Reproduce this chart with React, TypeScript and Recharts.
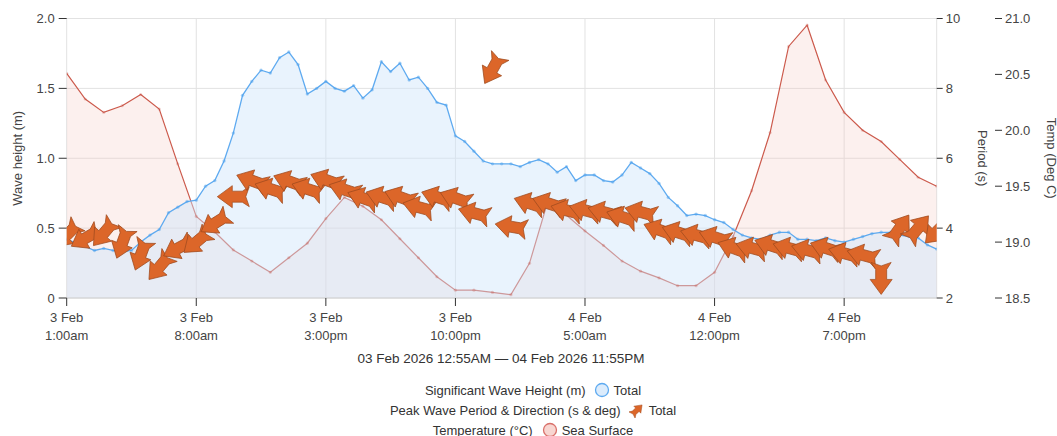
import React from 'react';
import { ComposedChart, Area, Scatter, XAxis, YAxis, CartesianGrid } from 'recharts';

// hours counted from 3 Feb 00:00
const START_HOUR = 1;
const xTicks = [1, 8, 15, 22, 29, 36, 43];
const waveTicks = [0, 0.5, 1, 1.5, 2];
const periodTicks = [2, 4, 6, 8, 10];
const tempTicks = [18.5, 19, 19.5, 20, 20.5, 21];

// significant wave height (m), every 30 min from 3 Feb 1:00am
const waveHeight = [
  0.42, 0.395, 0.37, 0.34, 0.355, 0.34, 0.33, 0.34, 0.4, 0.45, 0.49, 0.61, 0.65, 0.69, 0.7, 0.8,
  0.84, 0.98, 1.18, 1.45, 1.55, 1.63, 1.61, 1.72, 1.76, 1.67, 1.46, 1.5, 1.55, 1.5, 1.48,
  1.52, 1.43, 1.49, 1.69, 1.62, 1.68, 1.56, 1.58, 1.5, 1.4, 1.38, 1.16, 1.12, 1.05, 0.98, 0.96,
  0.96, 0.96, 0.94, 0.97, 0.99, 0.96, 0.9, 0.94, 0.84, 0.88, 0.88, 0.84, 0.83, 0.88, 0.97, 0.93,
  0.89, 0.82, 0.72, 0.66, 0.59, 0.6, 0.59, 0.56, 0.54, 0.49, 0.45, 0.43, 0.42, 0.45, 0.47, 0.47,
  0.42, 0.42, 0.41, 0.43, 0.41, 0.4, 0.42, 0.44, 0.46, 0.47, 0.47, 0.45, 0.44, 0.43, 0.38, 0.35,
];

// sea surface temperature (deg C), hourly
const seaTemp = [
  20.51, 20.28, 20.16, 20.22, 20.32, 20.19, 19.7, 19.23, 19.09, 18.93, 18.83, 18.73,
  18.86, 18.99, 19.21, 19.4, 19.32, 19.2, 19.03, 18.86, 18.69, 18.57, 18.57, 18.55,
  18.53, 18.81, 19.37, 19.24, 19.1, 18.97, 18.83, 18.74, 18.68, 18.61, 18.61, 18.73,
  19.05, 19.46, 19.98, 20.75, 20.94, 20.45, 20.16, 20.0, 19.9, 19.74, 19.58, 19.5,
];

// peak wave period (s) and direction (deg, coming from), hourly
const peakPeriod = [
  3.8, 3.71, 3.85, 3.57, 3.23, 2.88, 3.42, 3.6, 4.14, 4.9, 5.36, 5.12,
  5.34, 5.12, 5.38, 5.1, 4.86, 4.89, 4.89, 4.6, 4.89, 4.86, 4.43, 8.54,
  4.04, 4.71, 4.71, 4.51, 4.51, 4.46, 4.32, 4.46, 3.95, 3.88, 3.8, 3.74,
  3.43, 3.43, 3.51, 3.43, 3.37, 3.43, 3.28, 3.23, 2.56, 4.0, 4.0, 3.9,
];
const peakDir = [
  45, 60, 40, 20, 20, 40, 62, 50, 58, 90, 110, 108,
  110, 108, 110, 108, 110, 108, 110, 105, 108, 110, 105, 29,
  100, 108, 108, 105, 105, 105, 108, 105, 110, 108, 105, 108,
  110, 105, 108, 105, 105, 108, 105, 105, 0, 215, 220, 45,
];

const rows = waveHeight.map((h, i) => ({
  t: START_HOUR + i * 0.5,
  wave: h,
  temp: i % 2 === 0 ? seaTemp[i / 2] : null,
}));

const arrows = peakPeriod.map((p, i) => ({ t: START_HOUR + i, period: p, dir: peakDir[i] }));

const FONT = '"Liberation Sans", Arial, sans-serif';
const TEXT = '#444';
const ARROW_PATH = 'M16,0 L1,-11 L1,-5.5 L-9,-5.5 L-16,-10 L-12.5,0 L-16,10 L-9,5.5 L1,5.5 L1,11 Z';

function fmtTick(t: number) {
  const day = t < 24 ? 3 : 4;
  const hod = t % 24;
  const h12 = hod % 12 === 0 ? 12 : hod % 12;
  return [`${day} Feb`, `${h12}:00${hod < 12 ? 'am' : 'pm'}`];
}

function DateTick({ x, y, payload }: any) {
  const [a, b] = fmtTick(payload.value);
  return (
    <g transform={`translate(${x},${y})`}>
      <text textAnchor="middle" fill={TEXT} fontSize={13} fontFamily={FONT}>
        <tspan x={0} dy={14}>{a}</tspan>
        <tspan x={0} dy={18}>{b}</tspan>
      </text>
    </g>
  );
}

function ArrowMark(props: any) {
  const { cx, cy } = props;
  const dir = props.payload?.dir ?? props.dir ?? 90;
  if (cx == null || cy == null) return null;
  return (
    <path
      d={ARROW_PATH}
      transform={`translate(${cx},${cy}) rotate(${dir + 90})`}
      fill="#dc6629"
      stroke="#9e4a1e"
      strokeWidth={0.7}
    />
  );
}

function sideLabel(text: string, x: number, angle: number) {
  return ({ viewBox }: any) => {
    const cy = viewBox.y + viewBox.height / 2;
    return (
      <text
        x={x}
        y={cy}
        transform={`rotate(${angle},${x},${cy})`}
        textAnchor="middle"
        dominantBaseline="central"
        fill={TEXT}
        fontSize={13}
        fontFamily={FONT}
      >
        {text}
      </text>
    );
  };
}

const legendRow: React.CSSProperties = {
  display: 'flex',
  justifyContent: 'center',
  alignItems: 'center',
  height: 20,
};

export default function App() {
  return (
    <div style={{ position: 'absolute', left: 0, top: 0, width: 1057, height: 436, background: '#fff', fontFamily: FONT, color: '#333', overflow: 'hidden' }}>
      <ComposedChart width={1057} height={345} data={rows} margin={{ top: 18.5, right: 0, bottom: 0, left: 0 }}>
        <CartesianGrid yAxisId="wave" stroke="#e2e2e2" />
        <XAxis
          dataKey="t"
          type="number"
          domain={[1, 48]}
          ticks={xTicks}
          allowDataOverflow
          height={47}
          tickSize={8}
          tickMargin={2}
          axisLine={{ stroke: '#d0d0d0' }}
          tickLine={{ stroke: '#333' }}
          tick={<DateTick />}
        />
        <YAxis
          yAxisId="wave"
          domain={[0, 2]}
          ticks={waveTicks}
          width={66.7}
          tickSize={8}
          tickMargin={4}
          axisLine={false}
          tickLine={{ stroke: '#333' }}
          tick={{ fill: TEXT, fontSize: 13, fontFamily: FONT }}
          tickFormatter={(v: number) => (v === 0 ? '0' : v.toFixed(1))}
          label={{ content: sideLabel('Wave height (m)', 17, -90) }}
        />
        <YAxis
          yAxisId="period"
          orientation="right"
          domain={[2, 10]}
          ticks={periodTicks}
          width={58.3}
          tickSize={6}
          tickMargin={3}
          axisLine={false}
          tickLine={{ stroke: '#333' }}
          tick={{ fill: TEXT, fontSize: 13, fontFamily: FONT }}
          label={{ content: sideLabel('Period (s)', 982, 90) }}
        />
        <YAxis
          yAxisId="temp"
          orientation="right"
          domain={[18.5, 21]}
          ticks={tempTicks}
          width={62}
          tickSize={7}
          tickMargin={3}
          axisLine={false}
          tickLine={{ stroke: '#333' }}
          tick={{ fill: TEXT, fontSize: 13, fontFamily: FONT }}
          tickFormatter={(v: number) => v.toFixed(1)}
          label={{ content: sideLabel('Temp (Deg C)', 1051, 90) }}
        />
        <Area
          yAxisId="temp"
          dataKey="temp"
          type="linear"
          connectNulls
          stroke="#cc5a4c"
          strokeWidth={1.2}
          fill="#f2c4bd"
          fillOpacity={0.25}
          dot={{ r: 1.6, fill: '#c4493b', stroke: 'none' }}
          activeDot={false}
          isAnimationActive={false}
        />
        <Area
          yAxisId="wave"
          dataKey="wave"
          type="linear"
          stroke="#5eaaf0"
          strokeWidth={1.3}
          fill="#cfe5fb"
          fillOpacity={0.45}
          dot={{ r: 1.7, fill: '#4b9fea', stroke: 'none' }}
          activeDot={false}
          isAnimationActive={false}
        />
        <Scatter
          yAxisId="period"
          data={arrows}
          dataKey="period"
          shape={(p: any) => <ArrowMark {...p} />}
          isAnimationActive={false}
        />
      </ComposedChart>

      <div style={{ position: 'absolute', left: 0, width: 1002, top: 351, textAlign: 'center', fontSize: 13.5 }}>
        03 Feb 2026 12:55AM — 04 Feb 2026 11:55PM
      </div>

      <div style={{ position: 'absolute', left: 0, width: 1066, top: 380, fontSize: 13 }}>
        <div style={legendRow}>
          <span>Significant Wave Height (m)</span>
          <svg width={16} height={16} style={{ marginLeft: 8, marginRight: 4 }}>
            <circle cx={8} cy={8} r={6.5} fill="#dcecfc" stroke="#5eaaf0" strokeWidth={1.3} />
          </svg>
          <span>Total</span>
        </div>
        <div style={legendRow}>
          <span>Peak Wave Period &amp; Direction (s &amp; deg)</span>
          <svg width={16} height={16} style={{ marginLeft: 8, marginRight: 4 }}>
            <path d={ARROW_PATH} transform="translate(8,8) rotate(-45) scale(0.45)" fill="#dc6629" stroke="#9e4a1e" strokeWidth={1} />
          </svg>
          <span>Total</span>
        </div>
        <div style={legendRow}>
          <span>Temperature (°C)</span>
          <svg width={16} height={16} style={{ marginLeft: 9, marginRight: 4 }}>
            <circle cx={8} cy={8} r={6.5} fill="#f8d6d1" stroke="#d9706a" strokeWidth={1.3} />
          </svg>
          <span>Sea Surface</span>
        </div>
      </div>
    </div>
  );
}
